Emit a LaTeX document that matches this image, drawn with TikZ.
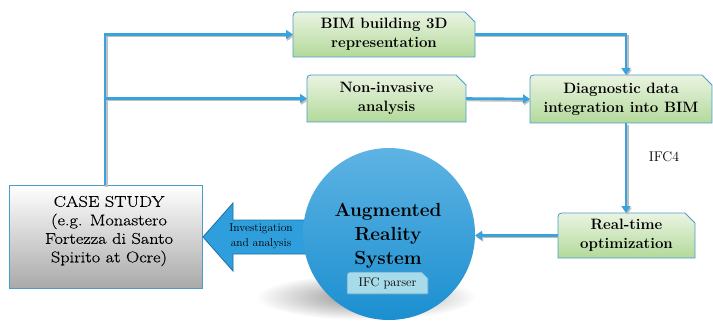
\documentclass[tikz,border=0pt]{standalone}
\usepackage{fontspec}
\newfontfamily\csfont{Latin Modern Roman}[FakeStretch=1.18, FakeBold=0.6]
\usetikzlibrary{arrows.meta}
\definecolor{conn}{HTML}{3BA3DC}
\definecolor{gtop}{HTML}{EAF4E2}
\definecolor{gbot}{HTML}{B3D99A}
\definecolor{bordb}{HTML}{4B9DC9}
\definecolor{cstop}{HTML}{FFFFFF}
\definecolor{csbot}{HTML}{A9A9A9}
\definecolor{ctop}{HTML}{5EB3E3}
\definecolor{cbot}{HTML}{1B8FD0}
\definecolor{barrow}{HTML}{2E9FDC}
\definecolor{barrowd}{HTML}{1D6FA5}
\definecolor{ifcfill}{HTML}{A7DBE9}
\tikzset{
  conn/.style={draw=conn, line width=2.6pt, -{Triangle[length=7pt,width=9pt]},
    preaction={draw=black!25, line width=2.6pt, transform canvas={shift={(1.2pt,-1.6pt)}}}},
  greenbox/.style={top color=gtop, bottom color=gbot, draw=bordb, line width=0.8pt},
  boxtext/.style={align=center, font=\fontsize{15}{19}\selectfont\bfseries, inner sep=0pt, outer sep=0pt},
}
\newcommand\gbox[6]{%
  \shade[greenbox] (#2,#5) -- (#2,#3+8) .. controls (#2,#3) .. (#2+8,#3) -- (#4-10,#3) -- (#4,#3+10) -- (#4,#5) -- cycle;
  \node[boxtext, minimum width={(#4-#2)*1pt}, minimum height={(#5-#3)*1pt}] (#1) at ({(#2+#4)/2},{(#3+#5)/2}) {#6};
}
\begin{document}
\begin{tikzpicture}[x=1pt,y=-1pt]
\useasboundingbox (0,0) rectangle (713,321);
% shadow under circle
\shade[inner color=black!45, outer color=white] (366,297) ellipse [x radius=110, y radius=23];
% boxes
\gbox{bim}{293}{12}{475}{57}{BIM building 3D\\representation}
\gbox{ni}{307}{75}{466}{122}{Non-invasive\\analysis}
\gbox{diag}{530}{75}{712}{123}{Diagnostic data\\integration into BIM}
\gbox{rt}{558}{213}{695}{258}{Real-time\\optimization}
% case study
\shade[top color=cstop, bottom color=csbot, draw=bordb, line width=1pt] (9,185) rectangle (202,288);
\node[inner sep=0pt, outer sep=0pt, minimum width=193pt, minimum height=103pt] (cs) at (105.5,236.5) {};
\node[align=center, font=\csfont\fontsize{15.5}{18.5}\selectfont, inner sep=0pt] (cst) at (109,231)
  {CASE STUDY\\(e.g. Monastero\\Fortezza di Santo\\Spirito at Ocre)};
% block arrow
\filldraw[fill=barrow, draw=barrowd, line width=0.8pt] (203,237) -- (233,203) -- (233,220) -- (312,220) -- (312,254) -- (233,254) -- (233,271) -- cycle;
\node[align=center, font=\fontsize{11.5}{15}\selectfont, inner sep=0pt] (inv) at (261,236) {Investigation\\and analysis};
% circle
\shade[top color=ctop, bottom color=cbot] (389,234) circle (86);
\node[circle, minimum size=172pt, inner sep=0pt, outer sep=0pt] (ar) at (389,234) {};
\node[align=center, font=\fontsize{19}{24}\selectfont\bfseries, inner sep=0pt] (art) at (388,236) {Augmented\\Reality\\System};
% IFC parser
\filldraw[fill=ifcfill, draw=bordb, line width=0.8pt] (347,294) -- (347,278) .. controls (347,272) .. (353,272) -- (422,272) -- (428,278) -- (428,294) -- cycle;
\node[font=\fontsize{12.5}{14}\selectfont, inner sep=0pt] (ifcp) at (387.5,283.5) {IFC parser};
% connectors
\coordinate (tx) at (105,0);
\coordinate (vx) at (626,0);
\draw[conn] (cs.north -| tx) |- (bim.west);
\draw[conn] (tx |- ni.west) -- (ni.west);
\draw[conn] (ni.east) -- (diag.west);
\draw[conn] (bim.east) -| (vx |- diag.north);
\draw[conn] (vx |- diag.south) -- (vx |- rt.north);
\draw[conn] (rt.west) -- (rt.west -| ar.east);
\node[font=\fontsize{14}{16}\selectfont, inner sep=0pt] (ifc4) at (664,157) {IFC4};
\end{tikzpicture}
\end{document}
